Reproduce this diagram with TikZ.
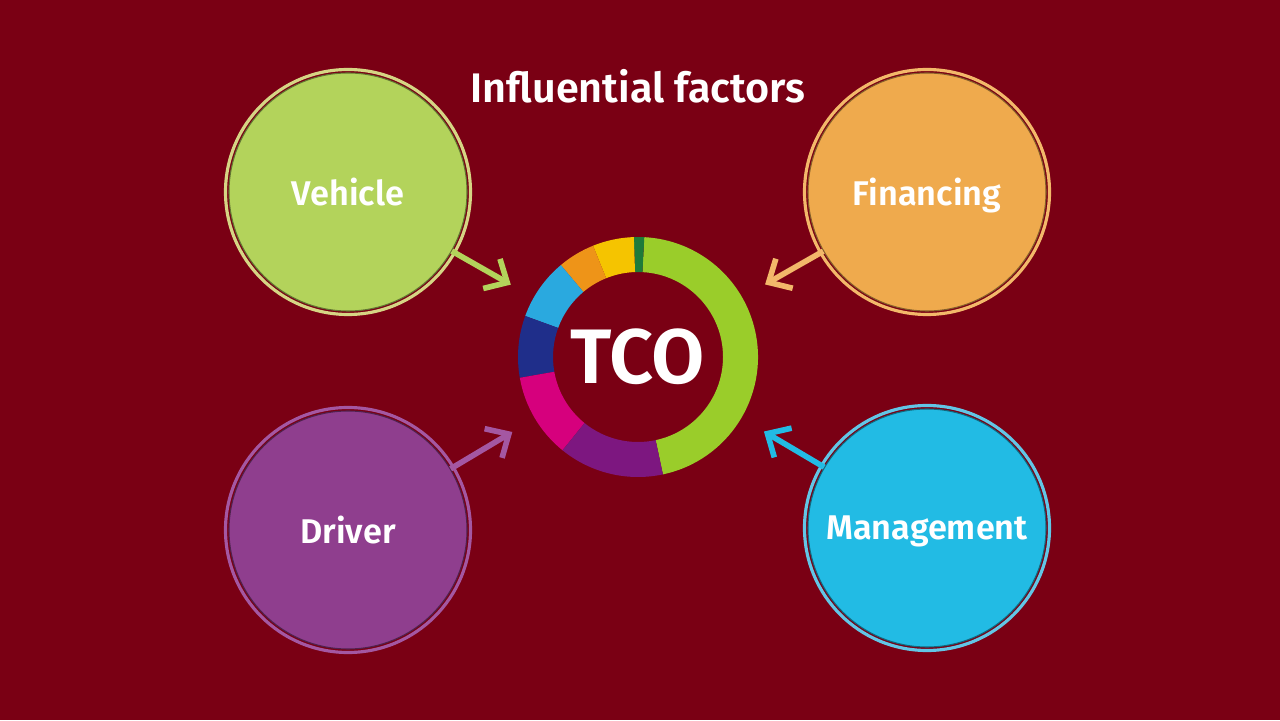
\documentclass[tikz,border=0pt]{standalone}
\usepackage{fontspec}
\setmainfont{Fira Sans}[BoldFont={Fira Sans SemiBold}]
\usetikzlibrary{positioning, arrows.meta, calc}

\definecolor{bgred}{HTML}{7A0014}
\definecolor{vehcol}{HTML}{B3D35B}
\definecolor{vehring}{HTML}{D6D584}
\definecolor{fincol}{HTML}{EFAA4D}
\definecolor{finring}{HTML}{F3B86A}
\definecolor{drvcol}{HTML}{8F3E8E}
\definecolor{drvring}{HTML}{A457A2}
\definecolor{mgtcol}{HTML}{22BBE4}
\definecolor{mgtring}{HTML}{62C6E6}
\definecolor{tcogreen}{HTML}{9ACD2A}
\definecolor{tcodkgreen}{HTML}{1E7B3A}
\definecolor{tcoyellow}{HTML}{F5C400}
\definecolor{tcoorange}{HTML}{EE9418}
\definecolor{tcoltblue}{HTML}{2AA9DF}
\definecolor{tcodkblue}{HTML}{1F2E8A}
\definecolor{tcomagenta}{HTML}{D6007D}
\definecolor{tcopurple}{HTML}{7D1780}

\begin{document}
\begin{tikzpicture}[
            factor/.style={circle, fill=#1, draw=#1!55!black, line width=0.6pt, minimum size=4.76cm, inner sep=0pt, align=center, text=white, text depth=0pt, font=\fontsize{19.5}{22}\selectfont\bfseries},
            ring/.style={draw=#1, line width=1.8pt},
            infl_arrow/.style={-{Straight Barb[length=0.36cm, width=0.68cm]}, line width=3.2pt, draw=#1, shorten >=0.52cm}
            ]

            % Background
            \useasboundingbox (0,0) rectangle (25.6,14.4);
            \fill[bgred] (0,0) rectangle (25.6,14.4);

            % Centre
            \node[circle, minimum size=4.8cm, inner sep=0pt, text=white, font=\fontsize{44}{44}\selectfont\bfseries] (tco) at (12.76,7.26) {TCO};
            \node[text=white, font=\fontsize{23.5}{26}\selectfont\bfseries] (title) at ([yshift=5.42cm]tco.center) {Influential factors};

            % TCO ring
            \foreach \a/\b/\c in {-78/87/tcogreen, 87/92/tcodkgreen, 92/112/tcoyellow, 112/130/tcoorange, 130/160/tcoltblue, 160/190/tcodkblue, 190/231/tcomagenta, 231/282/tcopurple}
                \fill[\c] ($(tco.center)+(\a:2.4cm)$) arc[start angle=\a, end angle=\b, radius=2.4cm] -- ($(tco.center)+(\b:1.7cm)$) arc[start angle=\b, end angle=\a, radius=1.7cm] -- cycle;

            % Factors
            \node[factor=vehcol] (veh) at ([xshift=-5.8cm, yshift=3.3cm]tco.center) {Vehicle};
            \node[factor=fincol] (fin) at ([xshift=5.78cm, yshift=3.3cm]tco.center) {Financing};
            \node[factor=drvcol] (drv) at ([xshift=-5.8cm, yshift=-3.46cm]tco.center) {Driver};
            \node[factor=mgtcol] (mgt) at ([xshift=5.78cm, yshift=-3.42cm]tco.center) {Management};

            \foreach \n/\c in {veh/vehring, fin/finring, drv/drvring, mgt/mgtring}
                \draw[ring=\c] (\n.center) circle (2.45cm);

            % Arrows
            \draw[infl_arrow=vehcol] (veh) -- (tco);
            \draw[infl_arrow=finring] (fin) -- (tco);
            \draw[infl_arrow=drvring] (drv) -- (tco);
            \draw[infl_arrow=mgtcol] (mgt) -- (tco);

        \end{tikzpicture}
\end{document}
